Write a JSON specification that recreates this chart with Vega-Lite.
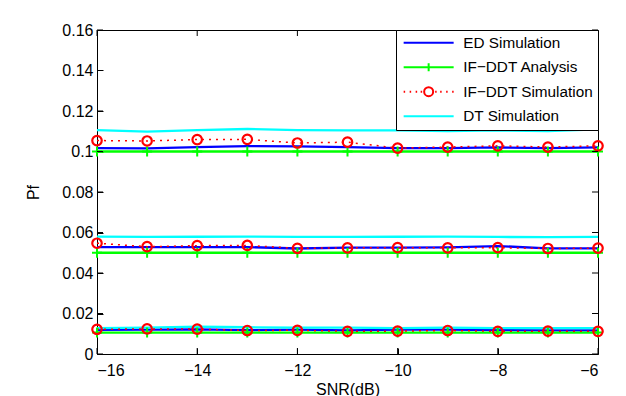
{
  "$schema": "https://vega.github.io/schema/vega-lite/v6.json",
  "width": 501,
  "height": 324,
  "autosize": {"type": "none"},
  "padding": {"left": 97, "top": 30, "right": 28, "bottom": 42},
  "background": "white",
  "config": {
    "font": "Liberation Sans",
    "view": {"stroke": "black", "strokeWidth": 1},
    "axis": {
      "grid": false,
      "domain": false,
      "labelColor": "black",
      "titleColor": "black",
      "labelFontSize": 16,
      "titleFontSize": 16,
      "titleFontWeight": "normal",
      "labelFont": "Liberation Sans",
      "titleFont": "Liberation Sans"
    },
    "legend": {
      "orient": "top-right",
      "offset": 0,
      "strokeColor": "black",
      "fillColor": "white",
      "padding": 5,
      "symbolSize": 100,
      "symbolStrokeWidth": 2,
      "symbolOpacity": 1,
      "labelFontSize": 15.3,
      "labelFont": "Liberation Sans",
      "labelColor": "black",
      "labelOffset": 47,
      "rowPadding": 7.5
    }
  },
  "datasets": {
    "xticks": [{"snr": -16}, {"snr": -14}, {"snr": -12}, {"snr": -10}, {"snr": -8}, {"snr": -6}],
    "yticks": [{"pf": 0}, {"pf": 0.02}, {"pf": 0.04}, {"pf": 0.06}, {"pf": 0.08}, {"pf": 0.1}, {"pf": 0.12}, {"pf": 0.14}, {"pf": 0.16}]
  },
  "data": {
    "values": [
      {"snr": -16, "series": "ED Simulation", "level": "a", "pf": 0.1017},
      {"snr": -15, "series": "ED Simulation", "level": "a", "pf": 0.1015},
      {"snr": -14, "series": "ED Simulation", "level": "a", "pf": 0.1022},
      {"snr": -13, "series": "ED Simulation", "level": "a", "pf": 0.1027},
      {"snr": -12, "series": "ED Simulation", "level": "a", "pf": 0.1025},
      {"snr": -11, "series": "ED Simulation", "level": "a", "pf": 0.1022},
      {"snr": -10, "series": "ED Simulation", "level": "a", "pf": 0.1017},
      {"snr": -9, "series": "ED Simulation", "level": "a", "pf": 0.1017},
      {"snr": -8, "series": "ED Simulation", "level": "a", "pf": 0.1020},
      {"snr": -7, "series": "ED Simulation", "level": "a", "pf": 0.1017},
      {"snr": -6, "series": "ED Simulation", "level": "a", "pf": 0.1020},
      {"snr": -16, "series": "ED Simulation", "level": "b", "pf": 0.0528},
      {"snr": -15, "series": "ED Simulation", "level": "b", "pf": 0.0528},
      {"snr": -14, "series": "ED Simulation", "level": "b", "pf": 0.0528},
      {"snr": -13, "series": "ED Simulation", "level": "b", "pf": 0.0528},
      {"snr": -12, "series": "ED Simulation", "level": "b", "pf": 0.0521},
      {"snr": -11, "series": "ED Simulation", "level": "b", "pf": 0.0525},
      {"snr": -10, "series": "ED Simulation", "level": "b", "pf": 0.0525},
      {"snr": -9, "series": "ED Simulation", "level": "b", "pf": 0.0527},
      {"snr": -8, "series": "ED Simulation", "level": "b", "pf": 0.0533},
      {"snr": -7, "series": "ED Simulation", "level": "b", "pf": 0.0522},
      {"snr": -6, "series": "ED Simulation", "level": "b", "pf": 0.0522},
      {"snr": -16, "series": "ED Simulation", "level": "c", "pf": 0.0119},
      {"snr": -15, "series": "ED Simulation", "level": "c", "pf": 0.0120},
      {"snr": -14, "series": "ED Simulation", "level": "c", "pf": 0.0122},
      {"snr": -13, "series": "ED Simulation", "level": "c", "pf": 0.0118},
      {"snr": -12, "series": "ED Simulation", "level": "c", "pf": 0.0120},
      {"snr": -11, "series": "ED Simulation", "level": "c", "pf": 0.0117},
      {"snr": -10, "series": "ED Simulation", "level": "c", "pf": 0.0120},
      {"snr": -9, "series": "ED Simulation", "level": "c", "pf": 0.0120},
      {"snr": -8, "series": "ED Simulation", "level": "c", "pf": 0.0118},
      {"snr": -7, "series": "ED Simulation", "level": "c", "pf": 0.0117},
      {"snr": -6, "series": "ED Simulation", "level": "c", "pf": 0.0117},
      {"snr": -16, "series": "IF−DDT Analysis", "level": "a", "pf": 0.1},
      {"snr": -15, "series": "IF−DDT Analysis", "level": "a", "pf": 0.1},
      {"snr": -14, "series": "IF−DDT Analysis", "level": "a", "pf": 0.1},
      {"snr": -13, "series": "IF−DDT Analysis", "level": "a", "pf": 0.1},
      {"snr": -12, "series": "IF−DDT Analysis", "level": "a", "pf": 0.1},
      {"snr": -11, "series": "IF−DDT Analysis", "level": "a", "pf": 0.1},
      {"snr": -10, "series": "IF−DDT Analysis", "level": "a", "pf": 0.1},
      {"snr": -9, "series": "IF−DDT Analysis", "level": "a", "pf": 0.1},
      {"snr": -8, "series": "IF−DDT Analysis", "level": "a", "pf": 0.1},
      {"snr": -7, "series": "IF−DDT Analysis", "level": "a", "pf": 0.1},
      {"snr": -6, "series": "IF−DDT Analysis", "level": "a", "pf": 0.1},
      {"snr": -16, "series": "IF−DDT Analysis", "level": "b", "pf": 0.05},
      {"snr": -15, "series": "IF−DDT Analysis", "level": "b", "pf": 0.05},
      {"snr": -14, "series": "IF−DDT Analysis", "level": "b", "pf": 0.05},
      {"snr": -13, "series": "IF−DDT Analysis", "level": "b", "pf": 0.05},
      {"snr": -12, "series": "IF−DDT Analysis", "level": "b", "pf": 0.05},
      {"snr": -11, "series": "IF−DDT Analysis", "level": "b", "pf": 0.05},
      {"snr": -10, "series": "IF−DDT Analysis", "level": "b", "pf": 0.05},
      {"snr": -9, "series": "IF−DDT Analysis", "level": "b", "pf": 0.05},
      {"snr": -8, "series": "IF−DDT Analysis", "level": "b", "pf": 0.05},
      {"snr": -7, "series": "IF−DDT Analysis", "level": "b", "pf": 0.05},
      {"snr": -6, "series": "IF−DDT Analysis", "level": "b", "pf": 0.05},
      {"snr": -16, "series": "IF−DDT Analysis", "level": "c", "pf": 0.0106},
      {"snr": -15, "series": "IF−DDT Analysis", "level": "c", "pf": 0.0106},
      {"snr": -14, "series": "IF−DDT Analysis", "level": "c", "pf": 0.0106},
      {"snr": -13, "series": "IF−DDT Analysis", "level": "c", "pf": 0.0106},
      {"snr": -12, "series": "IF−DDT Analysis", "level": "c", "pf": 0.0106},
      {"snr": -11, "series": "IF−DDT Analysis", "level": "c", "pf": 0.0106},
      {"snr": -10, "series": "IF−DDT Analysis", "level": "c", "pf": 0.0106},
      {"snr": -9, "series": "IF−DDT Analysis", "level": "c", "pf": 0.0106},
      {"snr": -8, "series": "IF−DDT Analysis", "level": "c", "pf": 0.0106},
      {"snr": -7, "series": "IF−DDT Analysis", "level": "c", "pf": 0.0106},
      {"snr": -6, "series": "IF−DDT Analysis", "level": "c", "pf": 0.0106},
      {"snr": -16, "series": "IF−DDT Simulation", "level": "a", "pf": 0.1054},
      {"snr": -15, "series": "IF−DDT Simulation", "level": "a", "pf": 0.1052},
      {"snr": -14, "series": "IF−DDT Simulation", "level": "a", "pf": 0.1059},
      {"snr": -13, "series": "IF−DDT Simulation", "level": "a", "pf": 0.1060},
      {"snr": -12, "series": "IF−DDT Simulation", "level": "a", "pf": 0.1042},
      {"snr": -11, "series": "IF−DDT Simulation", "level": "a", "pf": 0.1046},
      {"snr": -10, "series": "IF−DDT Simulation", "level": "a", "pf": 0.1017},
      {"snr": -9, "series": "IF−DDT Simulation", "level": "a", "pf": 0.1022},
      {"snr": -8, "series": "IF−DDT Simulation", "level": "a", "pf": 0.1028},
      {"snr": -7, "series": "IF−DDT Simulation", "level": "a", "pf": 0.1022},
      {"snr": -6, "series": "IF−DDT Simulation", "level": "a", "pf": 0.1028},
      {"snr": -16, "series": "IF−DDT Simulation", "level": "b", "pf": 0.0547},
      {"snr": -15, "series": "IF−DDT Simulation", "level": "b", "pf": 0.0530},
      {"snr": -14, "series": "IF−DDT Simulation", "level": "b", "pf": 0.0535},
      {"snr": -13, "series": "IF−DDT Simulation", "level": "b", "pf": 0.0536},
      {"snr": -12, "series": "IF−DDT Simulation", "level": "b", "pf": 0.0522},
      {"snr": -11, "series": "IF−DDT Simulation", "level": "b", "pf": 0.0524},
      {"snr": -10, "series": "IF−DDT Simulation", "level": "b", "pf": 0.0525},
      {"snr": -9, "series": "IF−DDT Simulation", "level": "b", "pf": 0.0524},
      {"snr": -8, "series": "IF−DDT Simulation", "level": "b", "pf": 0.0525},
      {"snr": -7, "series": "IF−DDT Simulation", "level": "b", "pf": 0.0521},
      {"snr": -6, "series": "IF−DDT Simulation", "level": "b", "pf": 0.0523},
      {"snr": -16, "series": "IF−DDT Simulation", "level": "c", "pf": 0.0122},
      {"snr": -15, "series": "IF−DDT Simulation", "level": "c", "pf": 0.0124},
      {"snr": -14, "series": "IF−DDT Simulation", "level": "c", "pf": 0.0123},
      {"snr": -13, "series": "IF−DDT Simulation", "level": "c", "pf": 0.0116},
      {"snr": -12, "series": "IF−DDT Simulation", "level": "c", "pf": 0.0117},
      {"snr": -11, "series": "IF−DDT Simulation", "level": "c", "pf": 0.0112},
      {"snr": -10, "series": "IF−DDT Simulation", "level": "c", "pf": 0.0113},
      {"snr": -9, "series": "IF−DDT Simulation", "level": "c", "pf": 0.0116},
      {"snr": -8, "series": "IF−DDT Simulation", "level": "c", "pf": 0.0112},
      {"snr": -7, "series": "IF−DDT Simulation", "level": "c", "pf": 0.0113},
      {"snr": -6, "series": "IF−DDT Simulation", "level": "c", "pf": 0.0112},
      {"snr": -16, "series": "DT Simulation", "level": "a", "pf": 0.1106},
      {"snr": -15, "series": "DT Simulation", "level": "a", "pf": 0.1098},
      {"snr": -14, "series": "DT Simulation", "level": "a", "pf": 0.1106},
      {"snr": -13, "series": "DT Simulation", "level": "a", "pf": 0.1111},
      {"snr": -12, "series": "DT Simulation", "level": "a", "pf": 0.1106},
      {"snr": -11, "series": "DT Simulation", "level": "a", "pf": 0.1104},
      {"snr": -10, "series": "DT Simulation", "level": "a", "pf": 0.1104},
      {"snr": -9, "series": "DT Simulation", "level": "a", "pf": 0.1101},
      {"snr": -8, "series": "DT Simulation", "level": "a", "pf": 0.1104},
      {"snr": -7, "series": "DT Simulation", "level": "a", "pf": 0.1101},
      {"snr": -6, "series": "DT Simulation", "level": "a", "pf": 0.1109},
      {"snr": -16, "series": "DT Simulation", "level": "b", "pf": 0.0580},
      {"snr": -15, "series": "DT Simulation", "level": "b", "pf": 0.0578},
      {"snr": -14, "series": "DT Simulation", "level": "b", "pf": 0.0579},
      {"snr": -13, "series": "DT Simulation", "level": "b", "pf": 0.0580},
      {"snr": -12, "series": "DT Simulation", "level": "b", "pf": 0.0578},
      {"snr": -11, "series": "DT Simulation", "level": "b", "pf": 0.0578},
      {"snr": -10, "series": "DT Simulation", "level": "b", "pf": 0.0579},
      {"snr": -9, "series": "DT Simulation", "level": "b", "pf": 0.0580},
      {"snr": -8, "series": "DT Simulation", "level": "b", "pf": 0.0578},
      {"snr": -7, "series": "DT Simulation", "level": "b", "pf": 0.0577},
      {"snr": -6, "series": "DT Simulation", "level": "b", "pf": 0.0578},
      {"snr": -16, "series": "DT Simulation", "level": "c", "pf": 0.0128},
      {"snr": -15, "series": "DT Simulation", "level": "c", "pf": 0.0130},
      {"snr": -14, "series": "DT Simulation", "level": "c", "pf": 0.0135},
      {"snr": -13, "series": "DT Simulation", "level": "c", "pf": 0.0132},
      {"snr": -12, "series": "DT Simulation", "level": "c", "pf": 0.0130},
      {"snr": -11, "series": "DT Simulation", "level": "c", "pf": 0.0130},
      {"snr": -10, "series": "DT Simulation", "level": "c", "pf": 0.0128},
      {"snr": -9, "series": "DT Simulation", "level": "c", "pf": 0.0130},
      {"snr": -8, "series": "DT Simulation", "level": "c", "pf": 0.0128},
      {"snr": -7, "series": "DT Simulation", "level": "c", "pf": 0.0128},
      {"snr": -6, "series": "DT Simulation", "level": "c", "pf": 0.0128}
    ]
  },
  "resolve": {"axis": {"x": "independent", "y": "independent"}},
  "layer": [
    {
      "transform": [{"filter": "datum.series !== 'IF−DDT Simulation'"}],
      "mark": {"type": "line", "strokeWidth": 2.3},
      "encoding": {
        "x": {
          "field": "snr", "type": "quantitative",
          "scale": {"domain": [-16, -6], "nice": false, "zero": false},
          "axis": {"values": [-16, -14, -12, -10, -8, -6], "format": "~g", "title": "SNR(dB)", "offset": -6, "labelPadding": 8, "titlePadding": 3, "ticks": true, "tickSize": 6, "tickWidth": 1, "tickColor": "black"}
        },
        "y": {
          "field": "pf", "type": "quantitative",
          "scale": {"domain": [0, 0.16], "nice": false, "zero": false},
          "axis": {"values": [0, 0.02, 0.04, 0.06, 0.08, 0.1, 0.12, 0.14, 0.16], "format": "~g", "title": "Pf", "offset": -6, "labelPadding": 4, "titlePadding": 20, "ticks": true, "tickSize": 6, "tickWidth": 1, "tickColor": "black"}
        },
        "color": {
          "field": "series", "type": "nominal",
          "scale": {"domain": ["ED Simulation", "IF−DDT Analysis", "IF−DDT Simulation", "DT Simulation"], "range": ["#0000ff", "#00ff00", "#ff0000", "#00ffff"]},
          "legend": {"title": null}
        },
        "detail": {"field": "level"}
      }
    },
    {
      "transform": [{"filter": "datum.series === 'IF−DDT Simulation'"}],
      "mark": {"type": "line", "strokeWidth": 1.5, "strokeDash": [2, 5], "color": "#ff0000"},
      "encoding": {
        "x": {"field": "snr", "type": "quantitative", "axis": null},
        "y": {"field": "pf", "type": "quantitative", "axis": null},
        "detail": {"field": "level"}
      }
    },
    {
      "transform": [{"filter": "datum.series === 'IF−DDT Analysis'"}],
      "mark": {"type": "point", "shape": "M-1,0H1M0,-1V1", "size": 100, "strokeWidth": 2, "color": "#00ff00", "filled": false, "opacity": 1},
      "encoding": {
        "x": {"field": "snr", "type": "quantitative", "axis": null},
        "y": {"field": "pf", "type": "quantitative", "axis": null}
      }
    },
    {
      "transform": [{"filter": "datum.series === 'IF−DDT Simulation'"}],
      "mark": {"type": "point", "shape": "circle", "size": 90, "strokeWidth": 2.2, "color": "#ff0000", "filled": false, "opacity": 1},
      "encoding": {
        "x": {"field": "snr", "type": "quantitative", "axis": null},
        "y": {"field": "pf", "type": "quantitative", "axis": null}
      }
    },
    {
      "data": {"name": "xticks"},
      "mark": {"type": "tick", "orient": "vertical", "size": 6, "thickness": 1, "color": "black", "opacity": 1, "yOffset": -3},
      "encoding": {
        "x": {"field": "snr", "type": "quantitative", "axis": null},
        "y": {"datum": 0, "type": "quantitative", "axis": null}
      }
    },
    {
      "data": {"name": "xticks"},
      "mark": {"type": "tick", "orient": "vertical", "size": 6, "thickness": 1, "color": "black", "opacity": 1, "yOffset": 3},
      "encoding": {
        "x": {"field": "snr", "type": "quantitative", "axis": null},
        "y": {"datum": 0.16, "type": "quantitative", "axis": null}
      }
    },
    {
      "data": {"name": "yticks"},
      "mark": {"type": "tick", "orient": "horizontal", "size": 6, "thickness": 1, "color": "black", "opacity": 1, "xOffset": 3},
      "encoding": {
        "y": {"field": "pf", "type": "quantitative", "axis": null},
        "x": {"datum": -16, "type": "quantitative", "axis": null}
      }
    },
    {
      "data": {"name": "yticks"},
      "mark": {"type": "tick", "orient": "horizontal", "size": 6, "thickness": 1, "color": "black", "opacity": 1, "xOffset": -3},
      "encoding": {
        "y": {"field": "pf", "type": "quantitative", "axis": null},
        "x": {"datum": -6, "type": "quantitative", "axis": null}
      }
    },
    {
      "mark": {"type": "point", "filled": false, "opacity": 0, "strokeWidth": 2},
      "encoding": {
        "x": {"field": "snr", "type": "quantitative", "axis": null},
        "y": {"field": "pf", "type": "quantitative", "axis": null},
        "color": {
          "field": "series", "type": "nominal",
          "legend": {"title": null,
            "encode": {"symbols": {"update": {"opacity": {"value": 1}, "strokeOpacity": {"value": 1}}}}}
        },
        "shape": {
          "field": "series", "type": "nominal",
          "scale": {
            "domain": ["ED Simulation", "IF−DDT Analysis", "IF−DDT Simulation", "DT Simulation"],
            "range": [
              "M-1,0H9",
              "M-1,0H9M4,-0.8V0.8",
              "M-1,0H-0.7M0.2,0H0.5M1.4,0H1.7M2.4,0H2.7M5.3,0H5.6M6.3,0H6.6M7.5,0H7.8M8.7,0H9M3.1,0A0.9,0.9 0 1,1 4.9,0A0.9,0.9 0 1,1 3.1,0",
              "M-1,0H9"
            ]
          },
          "legend": {"title": null}
        }
      }
    }
  ]
}
